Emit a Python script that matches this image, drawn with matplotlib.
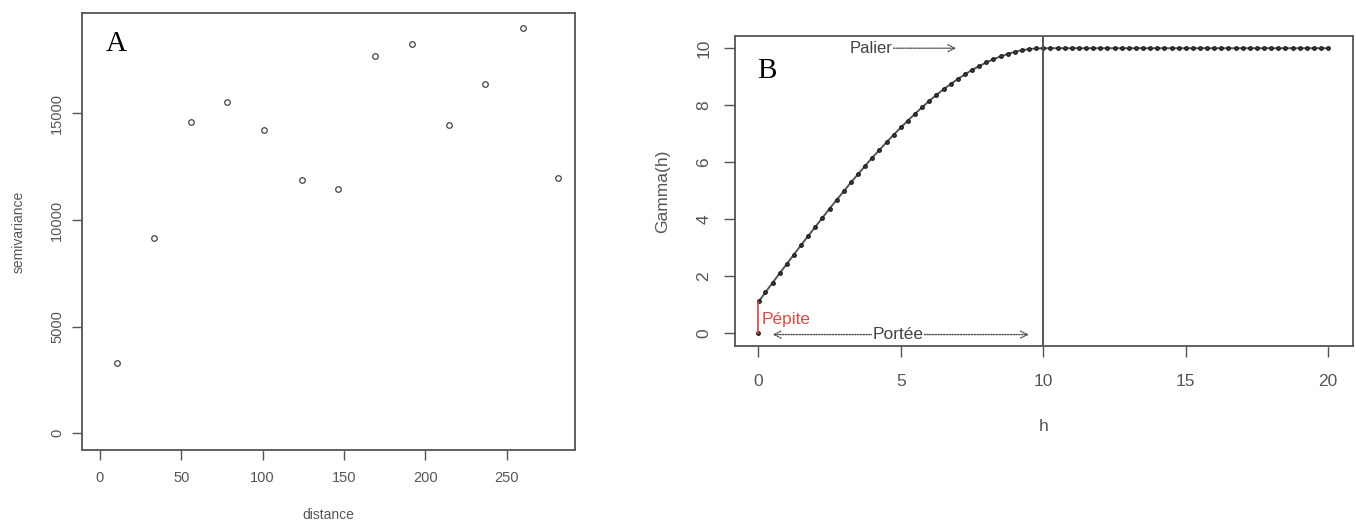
import matplotlib
matplotlib.use("Agg")
import matplotlib.pyplot as plt

plt.rcParams['font.family'] = ['Liberation Sans', 'DejaVu Sans']

# --- A : semivariogramme experimental ---
distance = [10.6, 33.0, 55.9, 78.3, 100.8, 123.9, 146.3, 168.8, 191.7, 214.3, 236.8, 259.7, 281.7]
semivariance = [3310, 9140, 14580, 15520, 14230, 11860, 11440, 17700, 18230, 14440, 16390, 18980, 11980]
xticks_a = [0, 50, 100, 150, 200, 250]
yticks_a = [0, 5000, 10000, 15000]

# --- B : modele theorique (pepite, palier, portee) ---
h = [0.0, 0.02, 0.25, 0.5, 0.75, 1.0, 1.25, 1.5, 1.75, 2.0, 2.25, 2.5, 2.75, 3.0, 3.25, 3.5, 3.75,
     4.0, 4.25, 4.5, 4.75, 5.0, 5.25, 5.5, 5.75, 6.0, 6.25, 6.5, 6.75, 7.0, 7.25, 7.5, 7.75,
     8.0, 8.25, 8.5, 8.75, 9.0, 9.25, 9.5, 9.75, 10.0, 10.25, 10.5, 10.75, 11.0, 11.25, 11.5,
     11.75, 12.0, 12.25, 12.5, 12.75, 13.0, 13.25, 13.5, 13.75, 14.0, 14.25, 14.5, 14.75, 15.0,
     15.25, 15.5, 15.75, 16.0, 16.25, 16.5, 16.75, 17.0, 17.25, 17.5, 17.75, 18.0, 18.25, 18.5,
     18.75, 19.0, 19.25, 19.5, 19.75, 20.0]
gamma = [0.0, 1.12, 1.43, 1.77, 2.10, 2.43, 2.76, 3.09, 3.41, 3.73, 4.05, 4.37, 4.68, 4.98, 5.29,
         5.58, 5.87, 6.16, 6.43, 6.70, 6.96, 7.22, 7.46, 7.70, 7.93, 8.15, 8.36, 8.56, 8.74, 8.92,
         9.08, 9.24, 9.37, 9.50, 9.61, 9.71, 9.80, 9.87, 9.93, 9.97, 9.99, 10.0, 10.0, 10.0, 10.0,
         10.0, 10.0, 10.0, 10.0, 10.0, 10.0, 10.0, 10.0, 10.0, 10.0, 10.0, 10.0, 10.0, 10.0, 10.0,
         10.0, 10.0, 10.0, 10.0, 10.0, 10.0, 10.0, 10.0, 10.0, 10.0, 10.0, 10.0, 10.0, 10.0, 10.0,
         10.0, 10.0, 10.0, 10.0, 10.0, 10.0, 10.0]
pepite = 1.1
palier = 10.0
portee = 10.0
xticks_b = [0, 5, 10, 15, 20]
yticks_b = [0, 2, 4, 6, 8, 10]

gris = '#555555'

fig = plt.figure(figsize=(13.56, 5.25), dpi=100)
axA = fig.add_axes([0.0605, 0.1429, 0.3636, 0.8324])
axB = fig.add_axes([0.5420, 0.3410, 0.4558, 0.5905])

# panneau A
axA.plot(distance, semivariance, 'o', ms=4, mfc='none', mec='#444444', mew=0.9)
axA.set_xlim(-11, 292)
axA.set_ylim(-780, 19700)
axA.set_xticks(xticks_a)
axA.set_yticks(yticks_a)
axA.tick_params(axis='both', length=7, width=1, color=gris, labelcolor=gris, labelsize=10.5)
axA.tick_params(axis='x', pad=8)
axA.tick_params(axis='y', labelrotation=90, pad=6)
for lab in axA.get_yticklabels():
    lab.set_va('center')
axA.set_xlabel('distance', fontsize=10, color=gris)
axA.set_ylabel('semivariance', fontsize=10, color=gris)
axA.xaxis.set_label_coords(0.5, -0.133)
axA.yaxis.set_label_coords(-0.115, 0.5)
axA.text(0.048, 0.93, 'A', transform=axA.transAxes, fontsize=21,
         family='Liberation Serif', va='center', ha='left')

# panneau B
axB.plot(h[1:], gamma[1:], '-', lw=1.4, color='#555555')
axB.plot(h, gamma, 'o', ms=2.6, mfc='#444444', mec='#111111', mew=0.8)
axB.axvline(portee, color=gris, lw=1.4)
axB.plot([0, 0], [0, pepite], color='#e04040', lw=1.2)
axB.text(0.12, 0.47, 'Pépite', color='#e04848', fontsize=12.5, ha='left', va='center')

axB.text(3.95, palier, 'Palier', color='#444444', fontsize=12, ha='center', va='center')
axB.annotate('', xy=(6.95, palier), xytext=(4.75, palier),
             arrowprops=dict(arrowstyle='->,head_length=0.5,head_width=0.25',
                             color='#555555', lw=1, ls=(0, (1, 1)), shrinkA=0, shrinkB=0))

axB.annotate('', xy=(9.5, -0.05), xytext=(0.5, -0.05),
             arrowprops=dict(arrowstyle='<->,head_length=0.5,head_width=0.25',
                             color='#555555', lw=1, ls=(0, (1, 1)), shrinkA=0, shrinkB=0))
axB.text(4.9, -0.05, 'Portée', color='#444444', fontsize=12.5, ha='center', va='center',
         bbox=dict(facecolor='white', edgecolor='none', pad=0.5))

axB.set_xlim(-0.82, 20.87)
axB.set_ylim(-0.45, 10.43)
axB.set_xticks(xticks_b)
axB.set_yticks(yticks_b)
axB.tick_params(axis='both', length=8, width=1, color=gris, labelcolor=gris, labelsize=12.5)
axB.tick_params(axis='x', pad=12)
axB.tick_params(axis='y', labelrotation=90, pad=9)
for lab in axB.get_yticklabels():
    lab.set_va('center')
axB.set_xlabel('h', fontsize=12.5, color=gris)
axB.set_ylabel('Gamma(h)', fontsize=12.5, color=gris)
axB.xaxis.set_label_coords(0.5, -0.235)
axB.yaxis.set_label_coords(-0.105, 0.5)
axB.text(0.3, 9.2, 'B', fontsize=21, family='Liberation Serif', va='center', ha='center')

for ax in (axA, axB):
    for sp in ax.spines.values():
        sp.set_color(gris)
        sp.set_linewidth(1.3)

fig.savefig('out.png', dpi=100)
